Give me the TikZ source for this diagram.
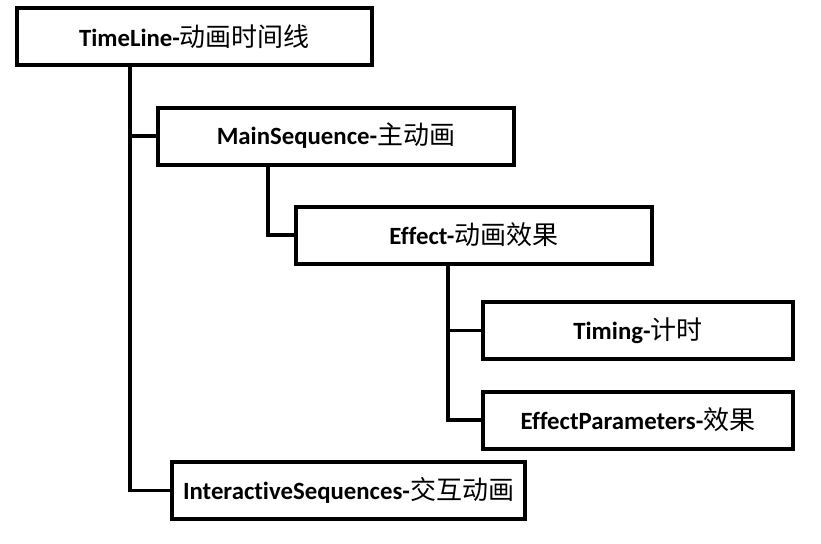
\documentclass[tikz,border=0pt]{standalone}
\usepackage{fontspec}
\setmainfont{Carlito}[Ligatures={NoCommon}]
\newfontfamily\cjk{Noto Sans CJK SC}
\usetikzlibrary{positioning}
\tikzset{font=\fontsize{18.6}{22}\selectfont\bfseries}
\tikzset{box/.style={draw, line width=3pt, outer sep=0pt, inner sep=0pt,
    minimum height=57*0.75pt}}
\tikzset{conn/.style={line width=2.4pt}}
\newcommand{\lbl}[2]{#1{\cjk\mdseries\fontsize{19.5}{22}\selectfont #2}}

\begin{document}
\begin{tikzpicture}[x=0.75pt, y=-0.75pt]
  \useasboundingbox (0,0) rectangle (821,543);

  \node[box, minimum width=355*0.75pt] (TL) at (194.5,36.5) {\lbl{TimeLine-}{动画时间线}};
  \node[box, minimum width=356*0.75pt] (MS) at (336,136) {\lbl{MainSequence-}{主动画}};
  \node[box, minimum width=356*0.75pt] (EF) at (474,235) {\lbl{Effect-}{动画效果}};
  \node[box, minimum width=310*0.75pt] (TM) at (638,330.5) {\lbl{Timing-}{计时}};
  \node[box, minimum width=310*0.75pt] (EP) at (638,420) {\lbl{EffectParameters-}{效果}};
  \node[box, minimum width=353*0.75pt] (IS) at (348.5,490.5) {\lbl{InteractiveSequences-}{交互动画}};

  \draw[conn] (TL.south west) ++(113,0) |- (MS.west);
  \draw[conn] (TL.south west) ++(113,0) |- (IS.west);
  \draw[conn] (MS.south west) ++(110,0) |- (EF.west);
  \draw[conn] (EF.south west) ++(152,0) |- (TM.west);
  \draw[conn] (EF.south west) ++(152,0) |- (EP.west);
\end{tikzpicture}
\end{document}
